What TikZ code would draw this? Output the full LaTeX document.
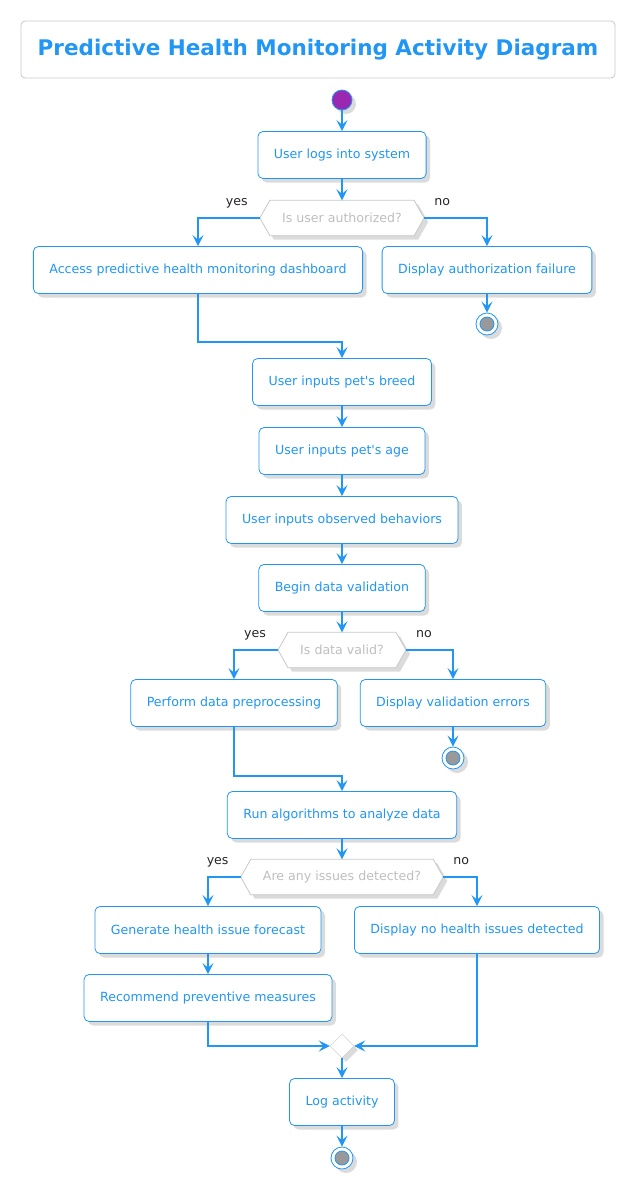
\documentclass[tikz,border=0pt]{standalone}
\usepackage{fontspec}
\setmainfont{DejaVu Sans}
\usetikzlibrary{shapes.geometric}
\usetikzlibrary{arrows.meta, shadows, backgrounds}

\definecolor{umlblue}{HTML}{2196F3}
\definecolor{umlpurple}{HTML}{9C27B0}
\definecolor{umlgray}{HTML}{C8C8C8}

\begin{document}
\begin{tikzpicture}[
 x=1pt, y=-1pt,
 font=\fontsize{12.6}{15}\selectfont,
 shade/.style={drop shadow={shadow xshift=4pt, shadow yshift=-4pt, fill=black!14, opacity=1}},
 act/.style={draw=umlblue, fill=white, rounded corners=5pt, text=umlblue, minimum height=47pt, inner xsep=16pt, line width=0.8pt, shade},
 ask/.style={text=black!25, minimum height=35pt, inner xsep=22pt},
 startnode/.style={circle, draw=umlblue, fill=umlpurple, minimum size=20pt, inner sep=0pt, line width=0.8pt, shade},
 stopnode/.style={circle, draw=umlblue, fill=white, minimum size=22pt, inner sep=0pt, line width=0.8pt, shade,
  path picture={\draw[umlblue, fill=black!40, line width=0.8pt] (path picture bounding box.center) circle (7pt);}},
 merge/.style={diamond, draw=umlgray, fill=white, minimum width=24pt, minimum height=24pt, inner sep=0pt, shade},
 flow/.style={draw=umlblue, line width=2.6pt, -{Stealth[length=11pt, width=11pt, inset=4.5pt]}},
 lbl/.style={text=black!85, inner sep=0pt}
]
\useasboundingbox (0,0) rectangle (638,1187);

\node[draw=umlgray, line width=0.8pt, rounded corners=4pt, minimum width=594pt, minimum height=57pt, text=umlblue,
 font=\fontsize{21.5}{25}\selectfont\bfseries] (title) at (318,49.5) {Predictive Health Monitoring Activity Diagram};

\node[startnode] (start) at (342,100) {};
\node[act] (b1) at (342,155) {User logs into system};
\node[ask] (d1) at (342,218) {Is user authorized?};
\node[act] (b2) at (198,270) {Access predictive health monitoring dashboard};
\node[act] (b3) at (487,270) {Display authorization failure};
\node[stopnode] (e1) at (487,324) {};
\coordinate (j1) at (342,342);
\node[act] (b4) at (342,382) {User inputs pet\textquotesingle s breed};
\node[act] (b5) at (342,451) {User inputs pet\textquotesingle s age};
\node[act] (b6) at (342,520) {User inputs observed behaviors};
\node[act] (b7) at (342,588) {Begin data validation};
\node[ask] (d2) at (342,650) {Is data valid?};
\node[act] (b8) at (234,703) {Perform data preprocessing};
\node[act] (b9) at (453,703) {Display validation errors};
\node[stopnode] (e2) at (453,758) {};
\coordinate (j2) at (342,776);
\node[act] (b10) at (342,815) {Run algorithms to analyze data};
\node[ask] (d3) at (342,877) {Are any issues detected?};
\node[act] (b11) at (208,930) {Generate health issue forecast};
\node[act] (b12) at (208,998) {Recommend preventive measures};
\node[act] (b13) at (477,930) {Display no health issues detected};
\node[merge] (m) at (342,1046) {};
\node[act] (b14) at (342,1102) {Log activity};
\node[stopnode] (e3) at (342,1158) {};

\begin{scope}[on background layer]
\foreach \n in {d1,d2,d3}
 \path[draw=umlgray, fill=white, line width=0.8pt, shade] (\n.west) -- ([xshift=10pt]\n.north west) -- ([xshift=-10pt]\n.north east)
  -- (\n.east) -- ([xshift=-10pt]\n.south east) -- ([xshift=10pt]\n.south west) -- cycle;
\end{scope}

\foreach \n in {d1,d2,d3} {
 \node[lbl, anchor=base east] (\n yes) at ([xshift=-12pt, yshift=13pt]\n.west) {yes};
 \node[lbl, anchor=base west] (\n no) at ([xshift=10pt, yshift=13pt]\n.east) {no};
}

\draw[flow] (start) -- (b1);
\draw[flow] (b1) -- (d1);
\draw[flow] (d1.west) -| (b2.north);
\draw[flow] (d1.east) -| (b3.north);
\draw[flow] (b3) -- (e1);
\draw[flow] (b2.south) |- (j1) -- (b4.north);
\draw[flow] (b4) -- (b5);
\draw[flow] (b5) -- (b6);
\draw[flow] (b6) -- (b7);
\draw[flow] (b7) -- (d2);
\draw[flow] (d2.west) -| (b8.north);
\draw[flow] (d2.east) -| (b9.north);
\draw[flow] (b9) -- (e2);
\draw[flow] (b8.south) |- (j2) -- (b10.north);
\draw[flow] (b10) -- (d3);
\draw[flow] (d3.west) -| (b11.north);
\draw[flow] (d3.east) -| (b13.north);
\draw[flow] (b11) -- (b12);
\draw[flow] (b12.south) |- (m.west);
\draw[flow] (b13.south) |- (m.east);
\draw[flow] (m) -- (b14);
\draw[flow] (b14) -- (e3);
\end{tikzpicture}
\end{document}
